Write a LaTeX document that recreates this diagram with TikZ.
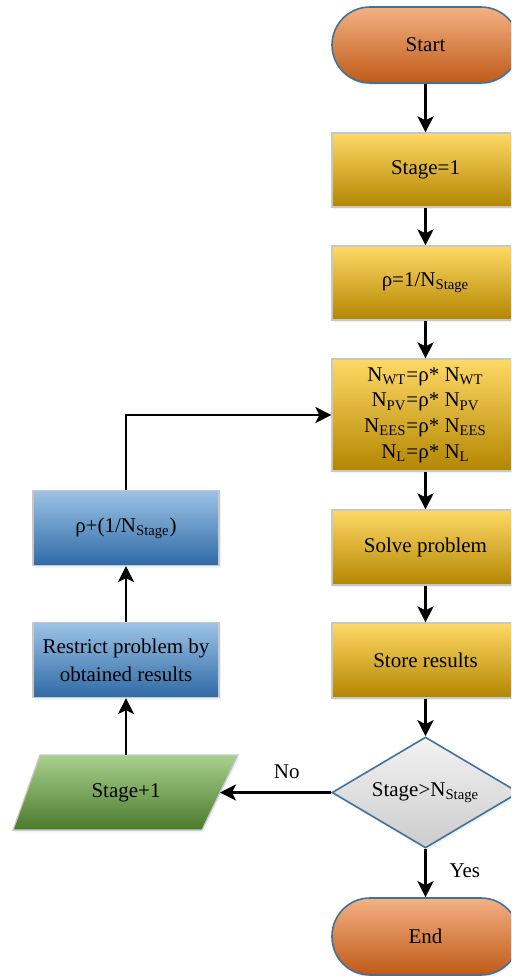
\documentclass[tikz,border=0pt]{standalone}
\usepackage{fontspec}
\setmainfont{Liberation Serif}
\usetikzlibrary{arrows.meta,shapes.geometric,shadows}

\definecolor{cYelTop}{HTML}{FFD966}
\definecolor{cYelMid}{HTML}{FFC000}
\definecolor{cYelBot}{HTML}{B38600}
\definecolor{cOrTop}{HTML}{F4B183}
\definecolor{cOrMid}{HTML}{ED7D31}
\definecolor{cOrBot}{HTML}{BF5A17}
\definecolor{cBlTop}{HTML}{9DC3E6}
\definecolor{cBlMid}{HTML}{5B9BD5}
\definecolor{cBlBot}{HTML}{2E6AA6}
\definecolor{cGrTop}{HTML}{A9D18E}
\definecolor{cGrMid}{HTML}{70AD47}
\definecolor{cGrBot}{HTML}{4A7A2C}
\definecolor{cEdge}{HTML}{41719C}
\definecolor{cGrey}{HTML}{C8C8C8}

\tikzset{
  softshadow/.style={drop shadow={opacity=0.35,fill=cBlTop!60,shadow xshift=0.8pt,shadow yshift=-1.2pt}},
  procbox/.style={rectangle,draw=cGrey,line width=0.6pt,minimum width=93.5pt,
    align=center,inner sep=2pt,softshadow,
    top color=cYelTop,middle color=cYelMid,bottom color=cYelBot},
  bluebox/.style={procbox,minimum width=93pt,minimum height=37.5pt,
    top color=cBlTop,middle color=cBlMid,bottom color=cBlBot},
  termbox/.style={rectangle,rounded corners=19pt,draw=cEdge,line width=0.8pt,
    minimum width=93.5pt,softshadow,
    top color=cOrTop,middle color=cOrMid,bottom color=cOrBot},
  testbox/.style={diamond,aspect=2.2,draw=cEdge,line width=0.8pt,minimum width=93.5pt,
    minimum height=55.5pt,inner sep=0pt,softshadow,
    top color=white!95!black,bottom color=white!80!black},
  flow/.style={line width=1.4pt,-{Stealth[length=8pt,width=8pt,inset=2pt]}}
}

\newcommand{\Nsub}[1]{N\textsubscript{#1}}

\begin{document}
\begin{tikzpicture}[x=0.5pt,y=-0.5pt,font=\fontsize{10.5}{12.8}\selectfont]
\clip (0,0) rectangle (511,976);

%right column
\node[termbox,minimum height=38pt] (nStart) at (425.5,45) {Start};
\node[procbox,minimum height=37pt] (nStage) at (425.5,170) {Stage=1};
\node[procbox,minimum height=37pt] (nRho) at (425.5,283) {ρ=1/\Nsub{Stage}};
\node[procbox,minimum height=56pt] (nUpd) at (425.5,415)
  {\Nsub{WT}=ρ* \Nsub{WT}\\ \Nsub{PV}=ρ* \Nsub{PV}\\ \Nsub{EES}=ρ* \Nsub{EES}\\ \Nsub{L}=ρ* \Nsub{L}};
\node[procbox,minimum height=37.5pt] (nSolve) at (425.5,547.5) {Solve problem};
\node[procbox,minimum height=37.5pt] (nStore) at (425.5,660.5) {Store results};
\node[testbox] (nTest) at (425.5,792.5) {Stage>\Nsub{Stage}};
\node[termbox,minimum height=38.5pt] (nEnd) at (425.5,936.5) {End};

%left column
\path[draw=cGrey,line width=0.6pt,softshadow,
  top color=cGrTop,middle color=cGrMid,bottom color=cGrBot]
  (40,755) -- (238,755) -- (202,830) -- (13,830) -- cycle;
\node (nInc) at (126,792.5) {Stage+1};
\coordinate (cIncTop) at (126,755);
\coordinate (cIncRight) at (220,792.5);
\node[bluebox,font=\fontsize{10.5}{14}\selectfont] (nRestrict) at (126,660)
  {Restrict problem by\\ obtained results};
\node[bluebox] (nRhoInc) at (126,528) {ρ+(1/\Nsub{Stage})};

%connectors
\draw[flow] (nStart) -- (nStage);
\draw[flow] (nStage) -- (nRho);
\draw[flow] (nRho) -- (nUpd);
\draw[flow] (nUpd) -- (nSolve);
\draw[flow] (nSolve) -- (nStore);
\draw[flow] (nStore) -- (nTest);
\draw[flow] (nTest) -- node[right=8pt,pos=0.45] {Yes} (nEnd);
\draw[flow] (nTest.west) -- node[above=3pt,pos=0.4] {No} (cIncRight);
\draw[flow] (cIncTop) -- (nRestrict);
\draw[flow] (nRestrict) -- (nRhoInc);
\draw[flow] (nRhoInc.north) |- (nUpd.west);
\end{tikzpicture}
\end{document}
